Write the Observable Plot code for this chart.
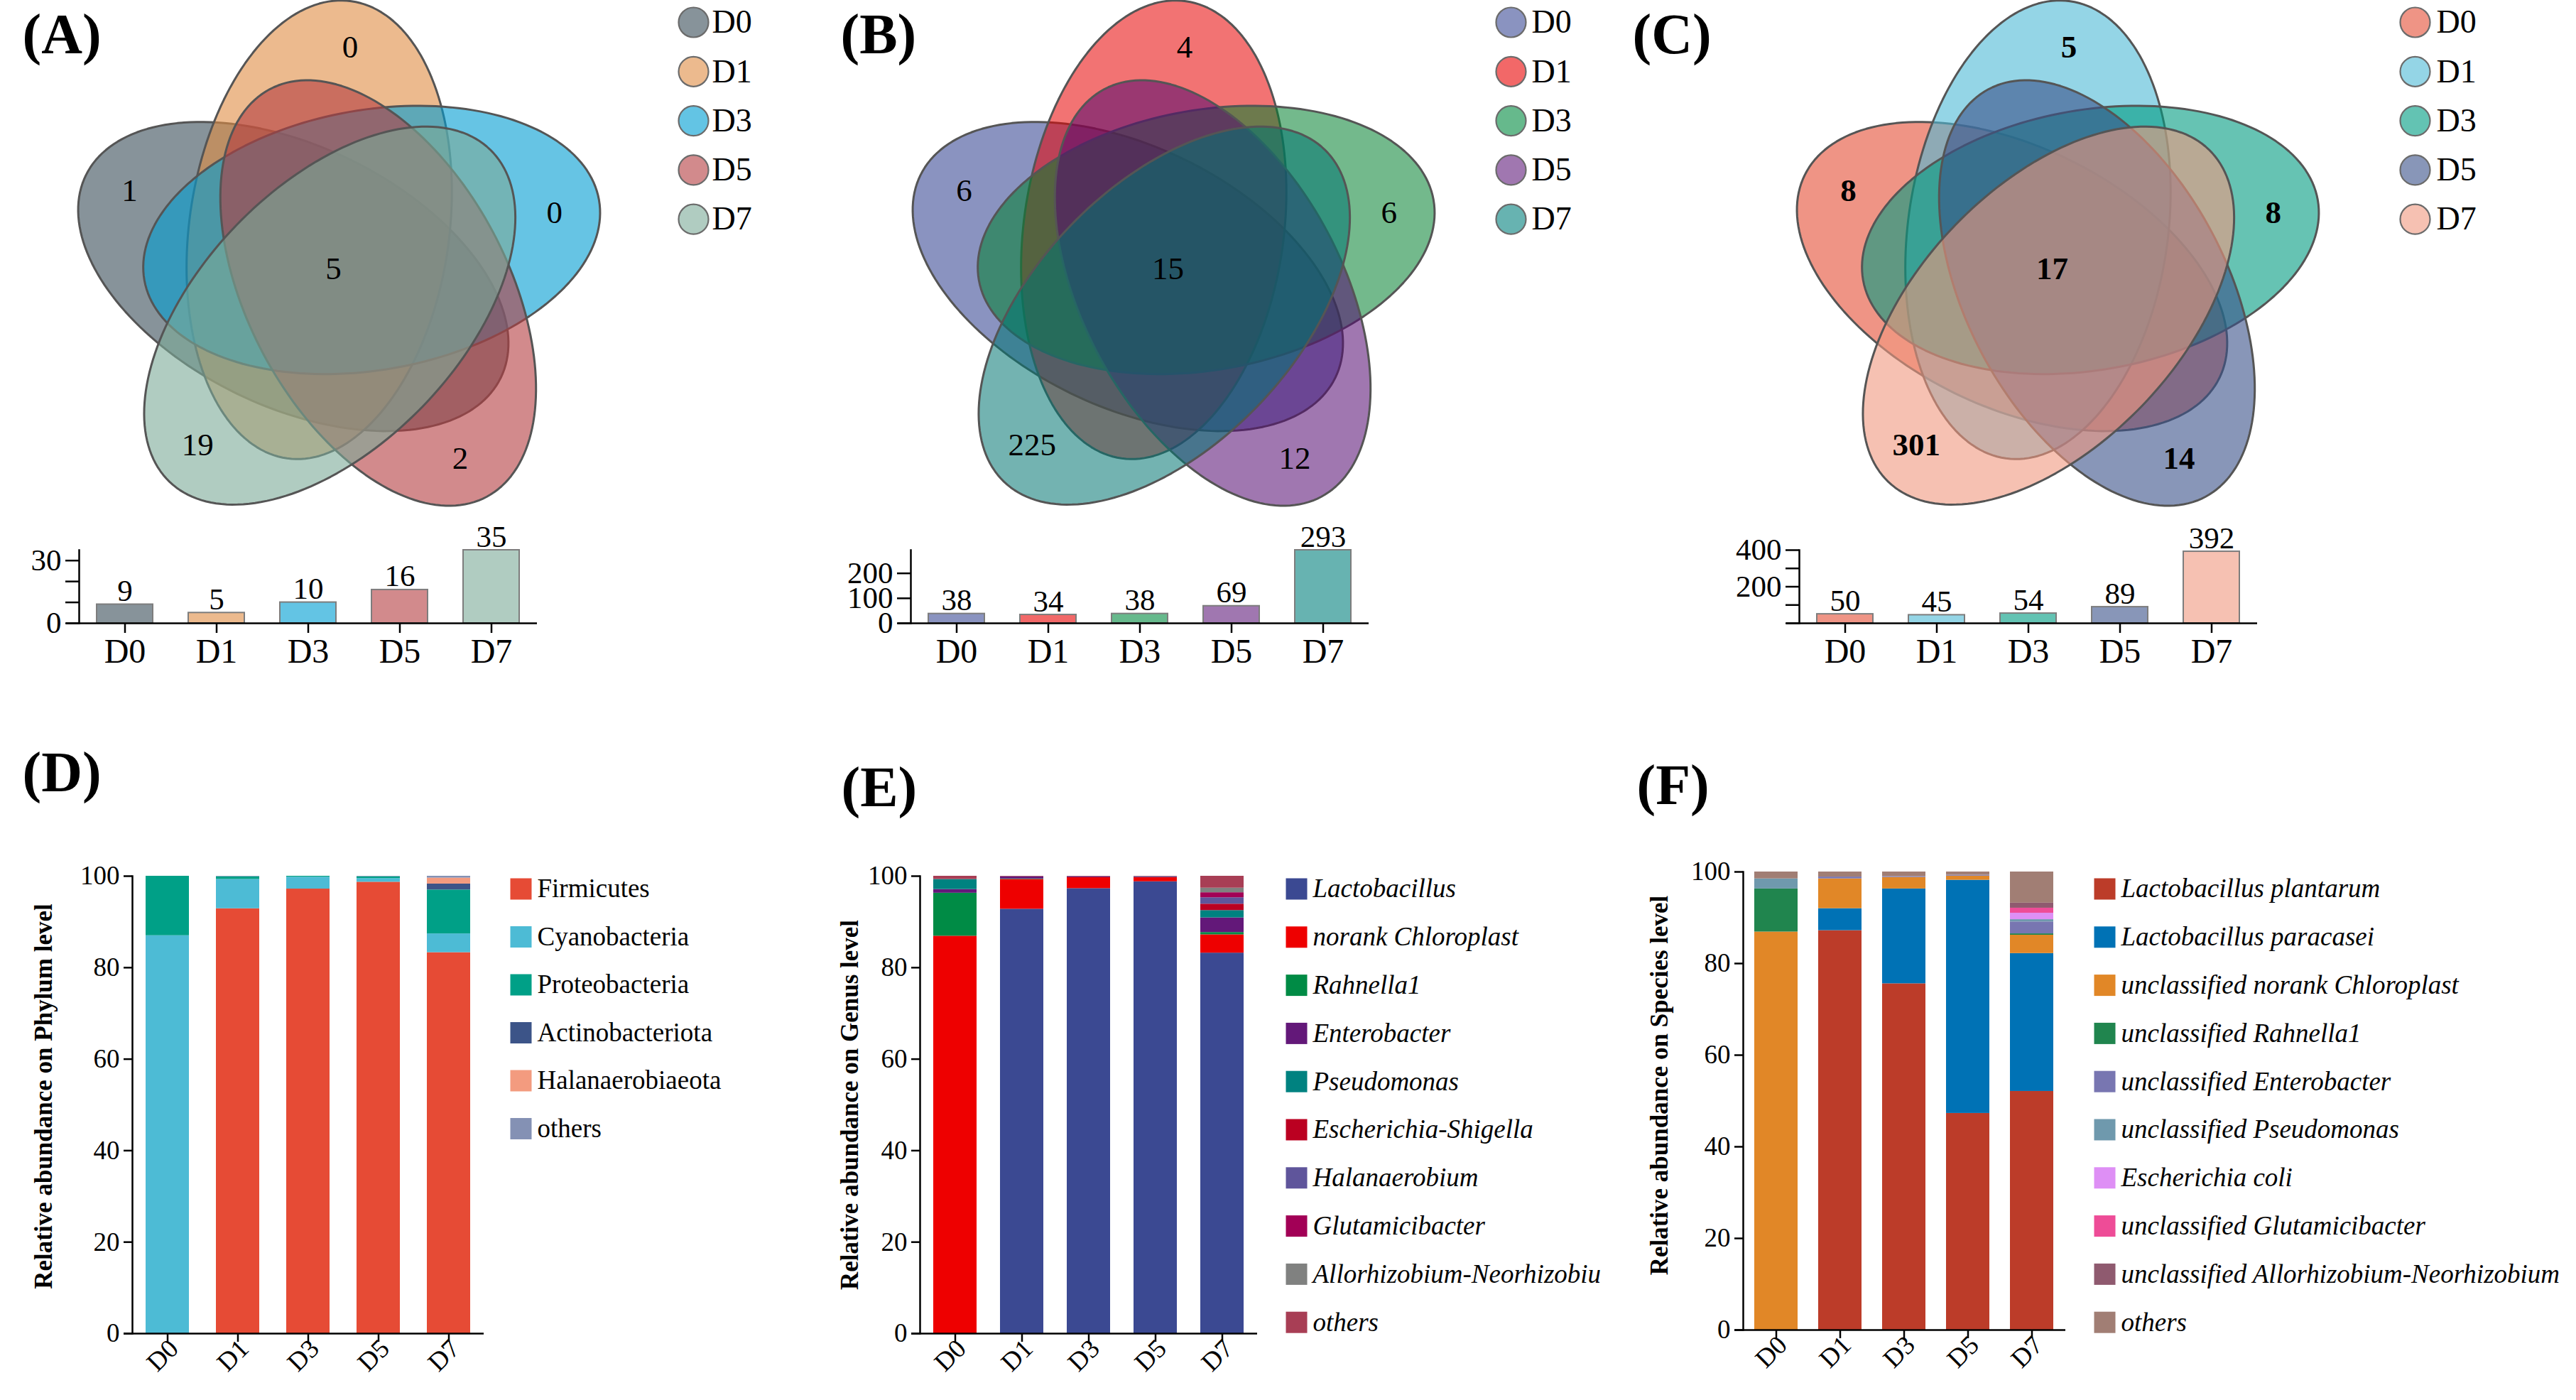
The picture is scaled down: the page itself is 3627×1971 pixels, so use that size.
<!DOCTYPE html>
<html><head><meta charset="utf-8">
<script src="https://cdn.jsdelivr.net/npm/d3@7"></script>
<script src="https://cdn.jsdelivr.net/npm/@observablehq/plot@0.6"></script>
<style>
body{margin:0;background:#fff;}
#fig{position:relative;width:3627px;height:1971px;background:#fff;overflow:hidden;}
</style></head><body><div id="fig"></div>
<script>
// ---------------- data ----------------
const days = ["D0","D1","D3","D5","D7"];

const vennUniqueA = [1, 0, 0, 2, 19];
const vennCoreA = 5;
const vennTotalsA = [9, 5, 10, 16, 35];
const vennUniqueB = [6, 4, 6, 12, 225];
const vennCoreB = 15;
const vennTotalsB = [38, 34, 38, 69, 293];
const vennUniqueC = [8, 5, 8, 14, 301];
const vennCoreC = 17;
const vennTotalsC = [50, 45, 54, 89, 392];

const barTicksA = [0, 10, 20, 30], barTickLabelsA = [0, 30];
const barTicksB = [0, 100, 200], barTickLabelsB = [0, 100, 200];
const barTicksC = [0, 100, 200, 300, 400], barTickLabelsC = [200, 400];
const abundanceTicks = [0, 20, 40, 60, 80, 100];

const phylumTaxa = ["Firmicutes","Cyanobacteria","Proteobacteria","Actinobacteriota","Halanaerobiaeota","others"];
const phylumValues = [
  [0, 92.9, 97.2, 98.7, 83.3],
  [87.0, 6.4, 2.6, 0.8, 4.1],
  [13.0, 0.6, 0.2, 0.4, 9.6],
  [0, 0, 0, 0, 1.3],
  [0, 0, 0, 0, 1.3],
  [0, 0.1, 0, 0.1, 0.4]
];
const genusTaxa = ["Lactobacillus","norank Chloroplast","Rahnella1","Enterobacter","Pseudomonas","Escherichia-Shigella","Halanaerobium","Glutamicibacter","Allorhizobium-Neorhizobiu","others"];
const genusValues = [
  [0, 92.8, 97.3, 98.8, 83.2],
  [86.9, 6.5, 2.4, 0.9, 4.0],
  [9.4, 0.1, 0, 0, 0.5],
  [0.8, 0.5, 0.2, 0, 3.2],
  [2.2, 0, 0, 0, 1.6],
  [0, 0, 0, 0, 1.4],
  [0, 0, 0, 0.2, 1.4],
  [0, 0, 0, 0, 1.1],
  [0, 0, 0, 0, 1.0],
  [0.7, 0.1, 0.1, 0.1, 2.6]
];
const speciesTaxa = ["Lactobacillus plantarum","Lactobacillus paracasei","unclassified norank Chloroplast","unclassified Rahnella1","unclassified Enterobacter","unclassified Pseudomonas","Escherichia coli","unclassified Glutamicibacter","unclassified Allorhizobium-Neorhizobium","others"];
const speciesValues = [
  [0, 87.2, 75.6, 47.3, 52.1],
  [0, 4.8, 20.7, 50.9, 30.1],
  [86.9, 6.5, 2.5, 0.9, 4.0],
  [9.4, 0, 0, 0, 0.3],
  [0, 0.4, 0.2, 0.2, 2.6],
  [2.2, 0, 0, 0, 0.5],
  [0, 0, 0, 0, 1.4],
  [0, 0, 0, 0, 1.1],
  [0, 0, 0, 0, 1.1],
  [1.5, 1.1, 1.0, 0.7, 6.8]
];
const panelNames = ["(A)","(B)","(C)","(D)","(E)","(F)"];
const titlePhylum = "Relative abundance on Phylum level";
const titleGenus = "Relative abundance on Genus level";
const titleSpecies = "Relative abundance on Species level";

// ---------------- styles ----------------
const vennColorsA = ["#87939a","#ecba8e","#63c4e4","#d28a8c","#b0ccc1"];
const vennColorsB = ["#8a93c0","#f26868","#66b98c","#a077b0","#67b3b1"];
const vennColorsC = ["#ef9485","#94d5e6","#63c3b3","#8896b8","#f6c1b2"];
const phylumColors = ["#E64B35","#4DBBD5","#00A087","#3C5488","#F39B7F","#8491B4"];
const genusColors = ["#3B4992","#EE0000","#008B45","#631879","#008280","#BB0021","#5F559B","#A20056","#808180","#A83E55"];
const speciesColors = ["#BC3C29","#0072B5","#E18727","#20854E","#7876B1","#6F99AD","#DE8FF5","#EE4C97","#8F5A6F","#A17E74"];

const FONT = "'Liberation Serif', 'Times New Roman', serif";
const baseStyle = {fontFamily: FONT, background: "none", overflow: "visible", color: "black"};
const fig = document.getElementById("fig");
function place(svg, left, top) {
  svg.style.position = "absolute";
  svg.style.left = left + "px";
  svg.style.top = top + "px";
  svg.style.maxWidth = "none";
  fig.appendChild(svg);
}
const rad = d => d * Math.PI / 180;
function baseColor(c, a) {
  const r = d3.rgb(c);
  const f = v => Math.max(0, Math.min(255, (v - (1 - a) * 255) / a));
  return d3.rgb(f(r.r), f(r.g), f(r.b)).formatHex();
}

// ---------------- Venn layout ----------------
const VA = 325, VB = 183, VOFF = 64, VOFF_ROT = -33, VBASE = -64, VLAB_R = 315, VLAB_ROT = -5;
const LEG_Y0 = 31, LEG_STEP = 69.3;

function vennPlot({left, width, cx, cy, unique, core, colors, legendX, legendDx, alpha, bold}) {
  const H = 760;
  const marks = [];
  days.forEach((day, k) => {
    const th = rad(VBASE + 72 * k);
    const om = rad(VBASE + 72 * k + VOFF_ROT);
    const ox = cx + VOFF * Math.sin(om), oy = cy - VOFF * Math.cos(om);
    const ux = Math.sin(th), uy = -Math.cos(th), vx = Math.cos(th), vy = Math.sin(th);
    const outline = d3.range(0, 360, 2).map(deg => {
      const t = rad(deg), p = VA * Math.cos(t), q = VB * Math.sin(t);
      return {x: ox + p * ux + q * vx, y: oy + p * uy + q * vy};
    });
    marks.push(Plot.line(outline, {x: "x", y: "y", curve: "linear-closed",
      fill: baseColor(colors[k], alpha), fillOpacity: alpha, stroke: "#555", strokeWidth: 3}));
  });
  const fw = bold ? "bold" : "normal";
  marks.push(Plot.text(days, {
    x: (d, k) => cx + VLAB_R * Math.sin(rad(VBASE + 72 * k + VLAB_ROT)),
    y: (d, k) => cy - VLAB_R * Math.cos(rad(VBASE + 72 * k + VLAB_ROT)),
    text: (d, k) => String(unique[k]), fontSize: 45, fontWeight: fw, fill: "black"}));
  marks.push(Plot.text([core], {x: cx - 7, y: cy - 3, text: d => String(d), fontSize: 45, fontWeight: fw, fill: "black"}));
  marks.push(Plot.dot(days, {x: legendX, y: (d, k) => LEG_Y0 + LEG_STEP * k, r: 21,
    fill: (d, k) => colors[k], stroke: "#6b6b6b", strokeWidth: 2.2}));
  marks.push(Plot.text(days, {x: legendX + legendDx, y: (d, k) => LEG_Y0 + LEG_STEP * k,
    text: d => d, textAnchor: "start", fontSize: 46, fill: "black"}));
  const svg = Plot.plot({
    width, height: H, margin: 0,
    x: {domain: [left, left + width], range: [0, width], axis: null},
    y: {domain: [0, H], range: [0, H], axis: null},
    color: {type: "identity"},
    style: baseStyle,
    marks
  });
  place(svg, left, 0);
}

function vennBarPlot({axisX, totals, colors, ticks, tickLabels, max}) {
  const mL = 111, mR = 44, w = mL + 645 + mR;
  const svg = Plot.plot({
    width: w, height: 260, marginLeft: mL, marginRight: mR, marginTop: 74, marginBottom: 83,
    x: {type: "band", domain: days, paddingInner: 0.388, paddingOuter: 0.194},
    y: {domain: [0, max]},
    color: {type: "identity"},
    style: baseStyle,
    marks: [
      Plot.barY(days, {x: d => d, y: (d, k) => totals[k], fill: (d, k) => colors[k], stroke: "#7d7d7d", strokeWidth: 2}),
      Plot.text(days, {x: d => d, y: (d, k) => totals[k], text: (d, k) => String(totals[k]), dy: -5, lineAnchor: "bottom", fontSize: 43, fill: "black"}),
      Plot.axisY({ticks, tickFormat: v => tickLabels.includes(v) ? String(v) : "", tickSize: 19, tickPadding: 6, fontSize: 43, strokeWidth: 2.5, label: null}),
      Plot.frame({anchor: "left", strokeWidth: 2.5}),
      Plot.ruleY([0], {strokeWidth: 2.5, insetLeft: -18}),
      Plot.axisX({tickSize: 14, tickPadding: 7, fontSize: 48, strokeWidth: 2.5, label: null})
    ]
  });
  place(svg, axisX - mL, 700);
}

function stackPlot({axisX, rangeW, y100, y0, taxa, values, colors, title, titleDx, titleDy, pi, po}) {
  const mL = 186, mR = 20, mT = 83, top = y100 - mT;
  const height = 1971 - top;
  const rows = taxa.flatMap((t, j) => days.map((d, i) => ({day: d, taxon: t, value: values[j][i]}))).filter(r => r.value > 0);
  const svg = Plot.plot({
    width: mL + rangeW + mR, height, marginLeft: mL, marginRight: mR, marginTop: mT,
    marginBottom: height - mT - (y0 - y100),
    x: {type: "band", domain: days, paddingInner: pi, paddingOuter: po},
    y: {domain: [0, 100]},
    color: {domain: taxa, range: colors},
    style: baseStyle,
    marks: [
      Plot.barY(rows, {x: "day", y: "value", fill: "taxon", order: taxa}),
      Plot.axisY({ticks: abundanceTicks, tickSize: 12, tickPadding: 6, fontSize: 37, strokeWidth: 2.5, label: null}),
      Plot.frame({anchor: "left", strokeWidth: 2.5}),
      Plot.ruleY([0], {strokeWidth: 2.5, insetLeft: -12}),
      Plot.axisX({tickSize: 12, fill: "none", strokeWidth: 2.5, label: null}),
      Plot.axisX({tickSize: 0, tickPadding: 15, tickRotate: -45, dx: 9, fontSize: 37, label: null}),
      Plot.text([title], {frameAnchor: "left", dx: titleDx, dy: titleDy, rotate: -90, textAnchor: "middle",
        fontSize: 35, fontWeight: "bold", text: d => d, fill: "black"})
    ]
  });
  place(svg, axisX - mL, top);
}

function legendPlot({left, top, firstY, step, taxa, colors, italic}) {
  const n = taxa.length;
  const w = 3627 - left, h = firstY - top + step * (n - 1) + 40;
  const svg = Plot.plot({
    width: w, height: h, margin: 0,
    x: {domain: [0, w], range: [0, w], axis: null},
    y: {domain: [0, n - 1], range: [firstY - top, firstY - top + step * (n - 1)], axis: null},
    color: {type: "identity"},
    style: baseStyle,
    marks: [
      Plot.dot(taxa, {x: 15, y: (d, i) => i, symbol: "square", r: 16.93, fill: (d, i) => colors[i]}),
      Plot.text(taxa, {x: 38, y: (d, i) => i, text: d => d, textAnchor: "start", fontSize: 37,
        fontStyle: italic ? "italic" : "normal", fill: "black"})
    ]
  });
  place(svg, left, top);
}

// panel letters
const panelPos = [[31, 74], [1183, 74], [2298, 74], [31, 1113], [1184, 1134], [2304, 1131]];
place(Plot.plot({
  width: 3627, height: 1971, margin: 0,
  x: {domain: [0, 3627], range: [0, 3627], axis: null},
  y: {domain: [0, 1971], range: [0, 1971], axis: null},
  style: baseStyle,
  marks: [Plot.text(panelNames, {x: (d, i) => panelPos[i][0], y: (d, i) => panelPos[i][1], text: d => d,
    textAnchor: "start", lineAnchor: "bottom", fontSize: 80, fontWeight: "bold", fill: "black"})]
}), 0, 0);

vennPlot({left: 0, width: 1150, cx: 476, cy: 381, unique: vennUniqueA, core: vennCoreA, colors: vennColorsA, legendX: 976, legendDx: 26, alpha: 0.6, bold: false});
vennPlot({left: 1150, width: 1130, cx: 1651, cy: 381, unique: vennUniqueB, core: vennCoreB, colors: vennColorsB, legendX: 2127, legendDx: 29, alpha: 0.55, bold: false});
vennPlot({left: 2280, width: 1347, cx: 2896, cy: 381, unique: vennUniqueC, core: vennCoreC, colors: vennColorsC, legendX: 3400, legendDx: 30, alpha: 0.6, bold: true});

vennBarPlot({axisX: 111, totals: vennTotalsA, colors: vennColorsA, ticks: barTicksA, tickLabels: barTickLabelsA, max: 35});
vennBarPlot({axisX: 1282, totals: vennTotalsB, colors: vennColorsB, ticks: barTicksB, tickLabels: barTickLabelsB, max: 293});
vennBarPlot({axisX: 2533, totals: vennTotalsC, colors: vennColorsC, ticks: barTicksC, tickLabels: barTickLabelsC, max: 400});

stackPlot({axisX: 186, rangeW: 495, y100: 1233, y0: 1877, taxa: phylumTaxa, values: phylumValues, colors: phylumColors, title: titlePhylum, titleDx: -125, titleDy: -12, pi: 0.382, po: 0.191});
stackPlot({axisX: 1295, rangeW: 475, y100: 1233, y0: 1877, taxa: genusTaxa, values: genusValues, colors: genusColors, title: titleGenus, titleDx: -99, titleDy: 0, pi: 0.347, po: 0.174});
stackPlot({axisX: 2454, rangeW: 454, y100: 1227, y0: 1872, taxa: speciesTaxa, values: speciesValues, colors: speciesColors, title: titleSpecies, titleDx: -118, titleDy: -22, pi: 0.317, po: 0.158});

legendPlot({left: 718, top: 1200, firstY: 1251, step: 67.5, taxa: phylumTaxa, colors: phylumColors, italic: false});
legendPlot({left: 1810, top: 1200, firstY: 1251, step: 67.8, taxa: genusTaxa, colors: genusColors, italic: true});
legendPlot({left: 2948, top: 1200, firstY: 1251, step: 67.8, taxa: speciesTaxa, colors: speciesColors, italic: true});
</script></body></html>
